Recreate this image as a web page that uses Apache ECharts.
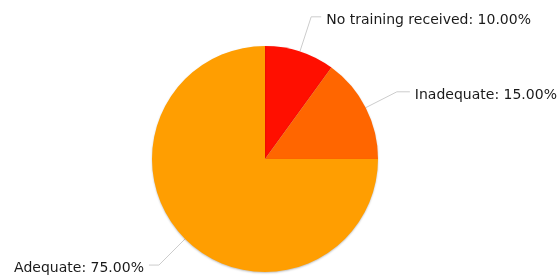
<!DOCTYPE html>
<html><head><meta charset="utf-8">
<script src="https://cdn.jsdelivr.net/npm/echarts@6/dist/echarts.min.js"></script>
<style>html,body{margin:0;padding:0;background:#fff}#c{width:560px;height:278px}</style>
</head><body><div id="c"></div>
<script>
const categories = ['No training received', 'Inadequate', 'Adequate'];
const values = [10, 15, 75];
const colors = ['#FF0F00', '#FF6600', '#FF9E01'];
const lineLengths = [[36.5, 10], [35, 13], [37, 10]];

const chart = echarts.init(document.getElementById('c'), null, {renderer: 'canvas'});
chart.setOption({
  animation: false,
  series: [{
    type: 'pie',
    center: [265, 159],
    radius: 113,
    startAngle: 90,
    clockwise: true,
    avoidLabelOverlap: false,
    data: categories.map((c, i) => ({
      name: c, value: values[i],
      itemStyle: {color: colors[i]},
      labelLine: {length: lineLengths[i][0], length2: lineLengths[i][1]}
    })),
    itemStyle: {shadowColor: 'rgba(0,0,0,0.25)', shadowBlur: 2, shadowOffsetY: 1},
    label: {
      show: true,
      formatter: p => '{t|' + p.name + ': ' + p.percent.toFixed(2) + '%}',
      rich: {
        t: {
          fontFamily: '"DejaVu Sans", sans-serif',
          fontSize: 14,
          color: '#1a1a1a',
          padding: [7, 0, 0, 0]
        }
      },
      distanceToLabelLine: 5
    },
    labelLine: {show: true, smooth: false, lineStyle: {color: '#ccc', width: 1}},
    emphasis: {disabled: true}
  }]
});
</script></body></html>
